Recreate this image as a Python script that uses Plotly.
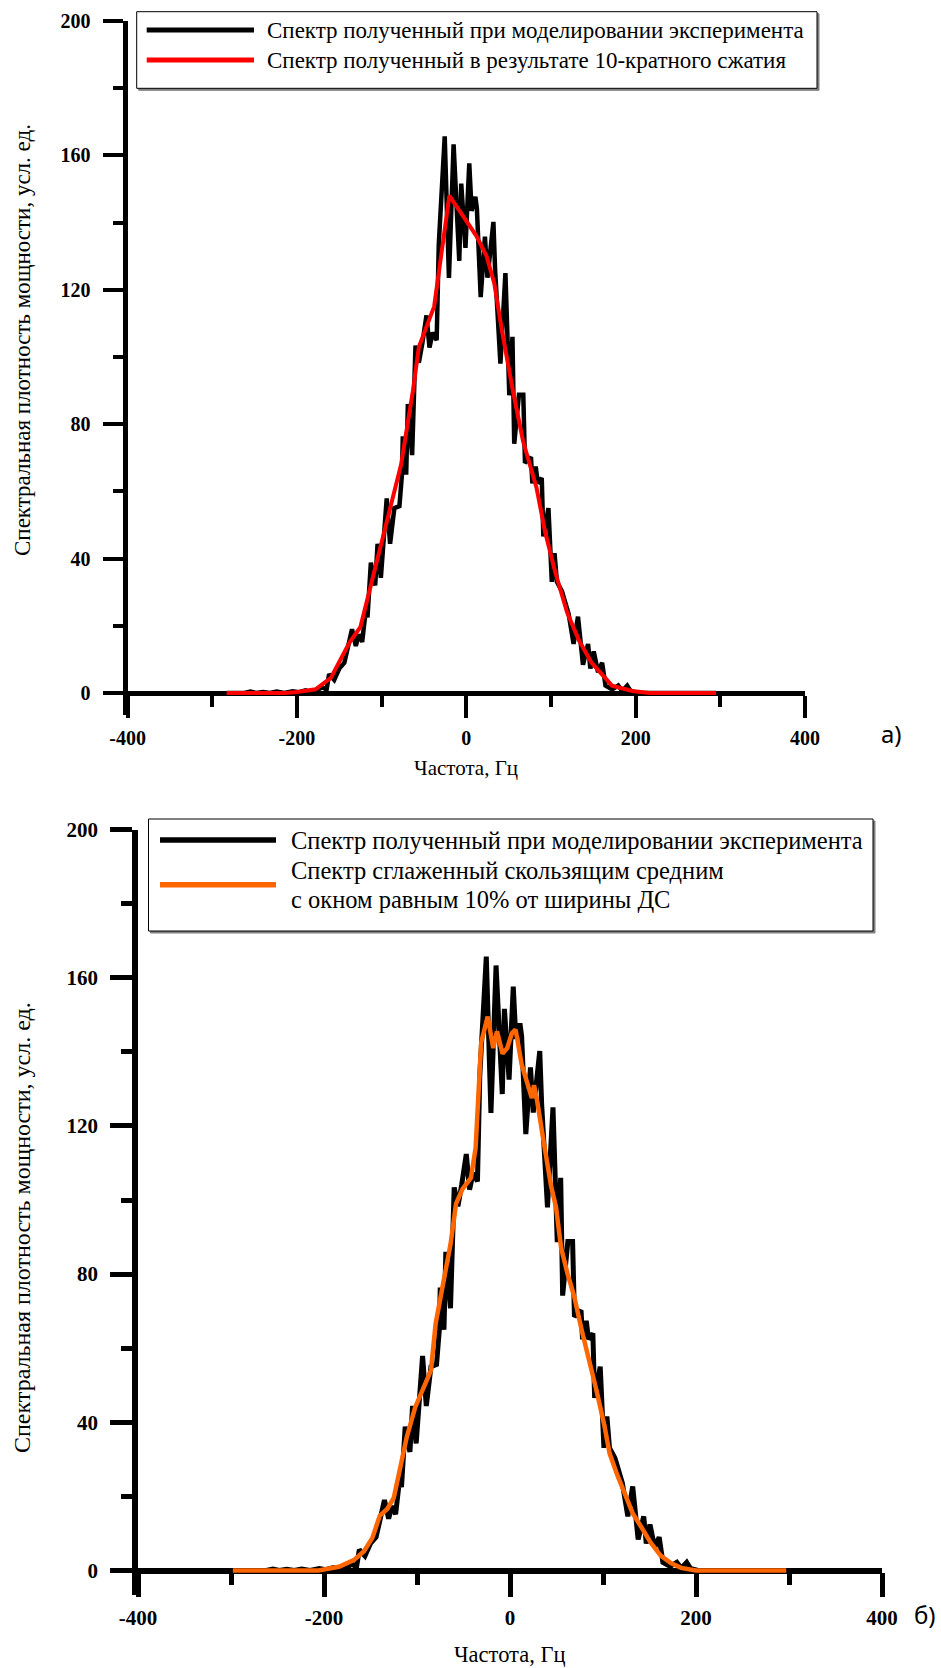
import plotly.graph_objects as go

# ---------------- data ----------------
freq = [-283, -262, -255, -248, -240, -232, -224, -215, -205, -198, -190, -184, -178,
        -170, -165, -162, -156, -150, -144, -140, -135, -130.5, -127, -123, -118.7,
        -116.7, -112.7, -107.6, -104.8, -100.9, -96.9, -94, -90, -85, -79, -76, -75,
        -71, -69, -64, -60, -56, -52, -47, -43.5, -39.6, -35, -32.5, -25.5, -20.5,
        -15, -8.3, -6, -1, 3.5, 6.3, 10.7, 12.5, 17, 22, 25, 32, 34, 40.3, 46.2,
        50.8, 54.5, 56.6, 62.2, 67.3, 69.3, 76.4, 78, 82, 84.4, 89.1, 91, 97, 101,
        104.2, 107, 112.9, 120.8, 126.7, 131.9, 137.8, 143.8, 146.5, 150.5, 155.6,
        160.4, 164.4, 172.3, 179.4, 184.2, 190, 194, 202, 295]
power = [0, 0, 0.4, 0, 0.3, 0, 0.4, 0, 0.5, 0.2, 0.8, 0.3, 0.6,
         1.7, 1.0, 5.6, 3.9, 7.3, 9, 13.5, 19, 14, 17.4, 15.2, 24.7,
         22.5, 38.8, 32, 44.4, 34.3, 49.4, 57.9, 44.4, 55, 55.6, 65, 76.4,
         65, 86, 70.8, 103.4, 98.3, 104, 112.4, 102.8, 107.3, 105, 133.5, 165.7, 123.5,
         163.3, 128.6, 151.6, 132.5, 157.6, 143.5, 147.7, 144.2, 117.8, 135.8, 123.6, 140.2, 126, 98, 125,
         88.6, 106, 74.2, 88.8, 88.8, 68.5, 70.2, 62.4, 67.4, 62.4, 64, 46.6, 55, 33.1,
         41.6, 33.1, 30.3, 23.6, 14.6, 22.7, 8.4, 14.6, 7.3, 12.4, 6.2,
         9, 2.2, 1.1, 2.2, 0.6, 2.2, 0.6, 0, 0]

comp_freq = [-283, -245, -214, -200, -178, -160, -138, -125, -115, -99, -77, -63, -56,
             -38, -20, 12, 24, 33, 42, 55, 67, 83, 93, 105, 119, 133, 148, 160, 172,
             196, 216, 295]
comp_power = [0, 0, 0, 0.3, 1.1, 4.5, 15, 19.7, 29.8, 46, 68, 90, 103,
              115, 148, 136, 130, 122, 108, 90, 75, 61, 48, 36, 24, 15.7, 9, 5.6, 2.2,
              0.6, 0, 0]

ma_freq = [-298, -206, -184, -168, -157, -148, -140, -132, -125, -118, -111, -102, -93,
           -85, -80, -71, -64, -58, -51, -42, -37, -31, -24, -18, -14, -8, -3, 2, 6,
           12.6, 16.5, 23.5, 25.8, 29, 36, 44, 49.5, 55, 62, 69, 77, 86, 93, 101.6,
           107, 115, 123.6, 132, 141, 151, 162, 173, 184, 200, 297]
ma_power = [0, 0, 1, 2.8, 5.2, 8.8, 14.8, 16.6, 19.6, 28, 36, 44, 49,
            54, 66.6, 78, 88, 99, 103, 106, 114, 142.5, 149.5, 141, 145.5, 139.5, 141, 145, 146,
            136.5, 133, 127.5, 131, 127, 116, 104, 98, 87, 80, 74, 65, 56, 48.6, 39,
            31.7, 26, 21, 15.4, 11.8, 7.6, 4, 2, 0.7, 0, 0]

x_tickvals = [-400, -200, 0, 200, 400]
x_ticktext = ["-400", "-200", "0", "200", "400"]
y_tickvals = [0, 40, 80, 120, 160, 200]
y_ticktext = ["0", "40", "80", "120", "160", "200"]

legend_top = ["Спектр полученный при моделировании эксперимента",
              "Спектр полученный в результате 10-кратного сжатия"]
legend_bot = ["Спектр полученный при моделировании эксперимента",
              "Спектр сглаженный скользящим средним",
              "с окном равным 10% от ширины ДС"]
x_title = "Частота, Гц"
y_title = "Спектральная плотность мощности, усл. ед."

# ---------------- layout geometry (pixels) ----------------
W, H = 941, 1668
def fx(p):
    return p / W
def fy(p):
    return 1 - p / H

SERIF = "'Liberation Serif', 'Times New Roman', Times, serif"

# panel a)
A_xl, A_xr = 127.6, 805.0
A_y0, A_y200 = 693.0, 21.0
A_sc = (A_y0 - A_y200) / 200.0
A_ext = 22.0 / A_sc
# panel b)
B_xl, B_xr = 138.0, 882.0
B_y0, B_y200 = 1570.5, 829.5
B_sc = (B_y0 - B_y200) / 200.0
B_ext = 24.0 / B_sc

fig = go.Figure()
fig.add_trace(go.Scatter(x=freq, y=power, mode="lines", line=dict(color="black", width=4.5),
                         xaxis="x", yaxis="y", showlegend=False, hoverinfo="skip"))
fig.add_trace(go.Scatter(x=comp_freq, y=comp_power, mode="lines", line=dict(color="#ff0000", width=4),
                         xaxis="x", yaxis="y", showlegend=False, hoverinfo="skip"))
fig.add_trace(go.Scatter(x=freq, y=power, mode="lines", line=dict(color="black", width=5),
                         xaxis="x2", yaxis="y2", showlegend=False, hoverinfo="skip"))
fig.add_trace(go.Scatter(x=ma_freq, y=ma_power, mode="lines", line=dict(color="#ff6600", width=4.5),
                         xaxis="x2", yaxis="y2", showlegend=False, hoverinfo="skip"))

def xaxis_cfg(xl, xr, ypos, lw, tl, mtl, tw, fs):
    return dict(domain=[fx(xl), fx(xr)], range=[-400, 400], anchor="free", position=ypos,
                automargin=False,
                showline=True, linewidth=lw, linecolor="black", showgrid=False, zeroline=False,
                ticks="outside", ticklen=tl, tickwidth=tw, tickcolor="black",
                tickmode="array", tickvals=x_tickvals, ticktext=x_ticktext, layer="below traces",
                minor=dict(dtick=100, tick0=0, ticks="outside", ticklen=mtl, tickwidth=tw,
                           tickcolor="black", showgrid=False),
                tickfont=dict(family=SERIF, size=fs, color="black", weight="bold"),
                ticklabelstandoff=3, fixedrange=True)

def yaxis_cfg(ytop, ybot, anchor, lw, tl, mtl, tw, fs, ext):
    return dict(domain=[fy(ybot), fy(ytop)], range=[-ext, 200], anchor=anchor,
                automargin=False,
                showline=True, linewidth=lw, linecolor="black", showgrid=False, zeroline=False,
                ticks="outside", ticklen=tl, tickwidth=tw, tickcolor="black",
                tickmode="array", tickvals=y_tickvals, ticktext=y_ticktext, layer="below traces",
                minor=dict(dtick=20, tick0=0, ticks="outside", ticklen=mtl, tickwidth=tw,
                           tickcolor="black", showgrid=False),
                tickfont=dict(family=SERIF, size=fs, color="black", weight="bold"),
                ticklabelstandoff=8, fixedrange=True)

fig.update_layout(
    template="none",
    width=W, height=H, autosize=False,
    margin=dict(l=0, r=0, t=0, b=0, pad=0),
    paper_bgcolor="white", plot_bgcolor="rgba(0,0,0,0)",
    font=dict(family=SERIF, color="black"),
    xaxis=xaxis_cfg(A_xl, A_xr, fy(A_y0), 5, 22, 11, 4, 20),
    yaxis=yaxis_cfg(A_y200, A_y0 + 22.0, "x", 5, 20, 10, 4, 20, A_ext),
    xaxis2=xaxis_cfg(B_xl, B_xr, fy(B_y0), 5.5, 24, 12, 4.5, 21),
    yaxis2=yaxis_cfg(B_y200, B_y0 + 24.0, "x2", 5.5, 22, 11, 4.5, 21, B_ext),
)

shapes = []
annotations = []

def legend_box(x0, y0, x1, y1):
    shapes.append(dict(type="rect", xref="paper", yref="paper",
                       x0=fx(x0 + 2), x1=fx(x1 + 2), y0=fy(y1 + 2), y1=fy(y0 + 2),
                       line=dict(color="#808080", width=1), fillcolor="#808080", layer="above"))
    shapes.append(dict(type="rect", xref="paper", yref="paper",
                       x0=fx(x0), x1=fx(x1), y0=fy(y1), y1=fy(y0),
                       line=dict(color="black", width=1), fillcolor="white", layer="above"))

def legend_line(x0, x1, y, color, w):
    shapes.append(dict(type="line", xref="paper", yref="paper",
                       x0=fx(x0), x1=fx(x1), y0=fy(y), y1=fy(y),
                       line=dict(color=color, width=w), layer="above"))

def text(x, y, s, size, family=SERIF, xanchor="left", angle=0):
    annotations.append(dict(x=fx(x), y=fy(y), xref="paper", yref="paper", text=s,
                            showarrow=False, xanchor=xanchor, yanchor="middle",
                            textangle=angle, font=dict(family=family, size=size, color="black")))

# legend a)
legend_box(136.7, 11.7, 817, 88.3)
legend_line(146.7, 254, 30, "black", 5)
legend_line(146.7, 254, 60, "#ff0000", 5)
text(265, 30, legend_top[0], 23)
text(265, 60, legend_top[1], 23)

# legend b)
legend_box(148.5, 819, 873, 931)
legend_line(160, 276, 840, "black", 5.5)
legend_line(160, 276, 884.7, "#ff6600", 5.5)
text(289, 840, legend_bot[0], 24.5)
text(289, 870, legend_bot[1], 24.5)
text(289, 899, legend_bot[2], 24.5)

# axis titles
text(466, 768, x_title, 21, xanchor="center")
text(22, 340, y_title, 23, xanchor="center", angle=-90)
text(510, 1654, x_title, 22.5, xanchor="center")
text(22, 1228, y_title, 24, xanchor="center", angle=-90)

# panel labels
text(891, 734, "а)", 24, family="'Noto Sans', sans-serif", xanchor="center")
text(925, 1614, "б)", 24, family="'Noto Sans', sans-serif", xanchor="center")

fig.update_layout(shapes=shapes, annotations=annotations)
fig.write_html("out.html")
